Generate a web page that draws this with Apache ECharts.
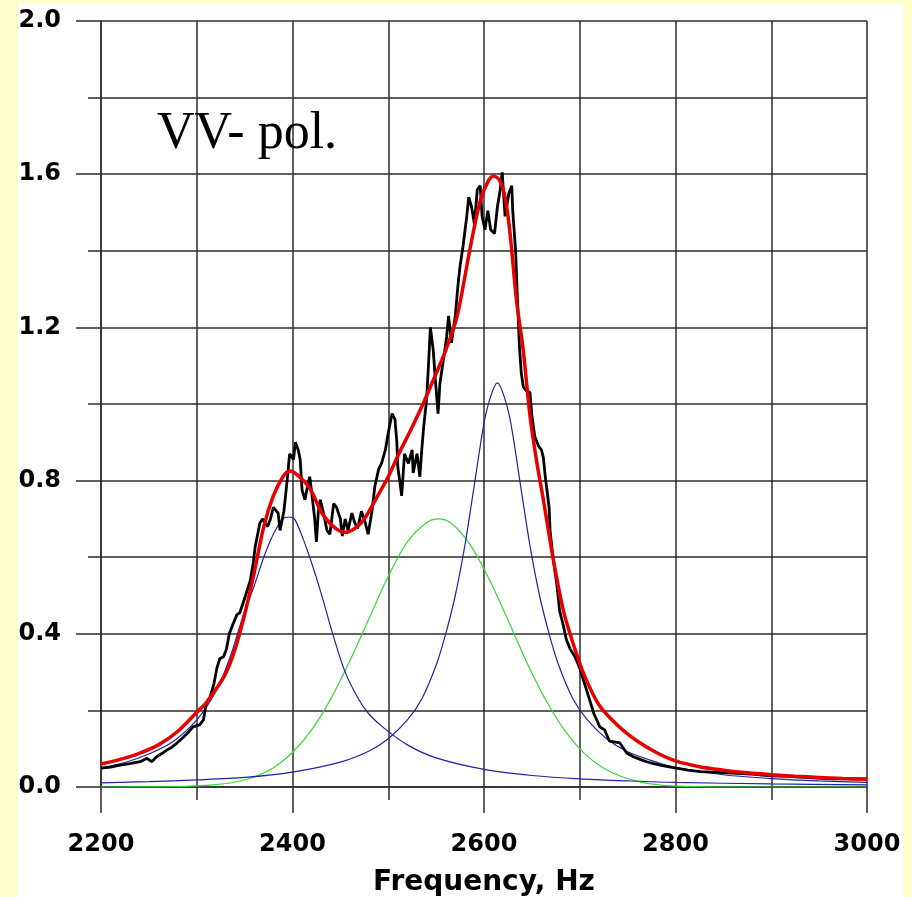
<!DOCTYPE html>
<html>
<head>
<meta charset="utf-8">
<script src="https://cdn.jsdelivr.net/npm/echarts@6/dist/echarts.min.js"></script>
<style>
  html, body { margin: 0; padding: 0; background: #FFFFCC; }
  #chart { width: 912px; height: 897px; }
</style>
</head>
<body>
<div id="chart"></div>
<script>
// Measured spectrum, VV polarisation: [frequency Hz, intensity]
const measured = [
  [2200,0.049],[2210,0.052],[2220,0.057],[2230,0.061],[2241,0.066],[2248,0.075],[2253,0.066],
  [2258,0.079],[2264,0.088],[2269,0.097],[2274,0.104],[2279,0.114],[2286,0.130],[2291,0.142],
  [2296,0.157],[2303,0.162],[2307,0.175],[2310,0.22],[2314,0.235],[2318,0.27],[2321,0.31],
  [2324,0.335],[2328,0.34],[2331,0.36],[2334,0.40],[2337,0.42],[2342,0.45],[2345,0.455],
  [2347,0.47],[2351,0.50],[2356,0.54],[2359,0.585],[2361,0.627],[2363,0.63],[2366,0.69],
  [2369,0.70],[2371,0.69],[2374,0.68],[2377,0.70],[2380,0.73],[2385,0.715],[2387,0.67],
  [2391,0.72],[2394,0.79],[2397,0.87],[2401,0.855],[2403,0.90],[2406,0.88],[2408,0.855],
  [2410,0.775],[2413,0.75],[2416,0.79],[2418,0.81],[2420,0.77],[2423,0.705],[2425,0.64],
  [2427,0.72],[2429,0.75],[2432,0.72],[2436,0.67],[2439,0.66],[2443,0.74],[2446,0.73],
  [2450,0.70],[2452,0.655],[2455,0.70],[2458,0.67],[2462,0.715],[2465,0.69],[2468,0.675],
  [2472,0.72],[2476,0.69],[2479,0.66],[2483,0.72],[2486,0.785],[2490,0.83],[2493,0.845],
  [2497,0.88],[2500,0.925],[2504,0.975],[2507,0.96],[2509,0.90],[2510,0.835],[2512,0.80],
  [2514,0.76],[2517,0.87],[2521,0.845],[2525,0.88],[2526,0.82],[2530,0.87],[2533,0.81],
  [2535,0.88],[2537,0.94],[2540,1.01],[2542,1.10],[2544,1.20],[2547,1.14],[2549,1.07],
  [2552,0.975],[2554,1.055],[2557,1.105],[2561,1.175],[2563,1.23],[2566,1.16],[2570,1.23],
  [2573,1.315],[2575,1.36],[2578,1.41],[2582,1.49],[2584,1.54],[2587,1.515],[2590,1.47],
  [2593,1.56],[2596,1.57],[2598,1.49],[2601,1.455],[2604,1.505],[2607,1.455],[2611,1.445],
  [2614,1.515],[2617,1.56],[2619,1.605],[2622,1.49],[2626,1.55],[2629,1.57],[2630,1.505],
  [2633,1.40],[2635,1.27],[2637,1.15],[2639,1.08],[2641,1.045],[2644,1.035],[2648,1.03],
  [2650,0.97],[2653,0.915],[2657,0.89],[2660,0.88],[2662,0.86],[2664,0.81],[2668,0.73],
  [2669,0.67],[2672,0.60],[2676,0.53],[2679,0.46],[2683,0.42],[2686,0.385],[2690,0.36],
  [2695,0.34],[2700,0.31],[2705,0.27],[2710,0.23],[2715,0.19],[2721,0.157],[2726,0.149],
  [2731,0.12],[2736,0.118],[2742,0.115],[2749,0.089],[2756,0.079],[2763,0.072],[2770,0.066],
  [2777,0.061],[2784,0.057],[2792,0.053],[2801,0.049],[2813,0.044],[2826,0.040],[2843,0.038],
  [2860,0.036],[2878,0.034],[2890,0.031],[2902,0.029],[2915,0.028],[2930,0.026],[2948,0.023],
  [2965,0.021],[2980,0.022],[3000,0.021]
];

// Total fitted curve
const fitTotal = [
  [2200,0.060],[2220,0.072],[2240,0.088],[2260,0.110],[2280,0.145],[2300,0.195],[2310,0.220],
  [2320,0.255],[2330,0.295],[2340,0.36],[2350,0.45],[2360,0.56],[2370,0.68],[2380,0.76],
  [2390,0.81],[2397,0.825],[2405,0.815],[2418,0.78],[2432,0.71],[2445,0.675],[2455,0.665],
  [2465,0.675],[2475,0.70],[2490,0.765],[2500,0.81],[2512,0.875],[2525,0.94],[2538,1.01],
  [2550,1.08],[2560,1.14],[2572,1.23],[2585,1.40],[2596,1.53],[2604,1.58],[2610,1.595],
  [2616,1.585],[2622,1.54],[2627,1.45],[2634,1.27],[2641,1.14],[2648,0.97],[2655,0.85],
  [2662,0.75],[2672,0.60],[2683,0.46],[2695,0.36],[2705,0.29],[2720,0.215],[2740,0.16],
  [2760,0.12],[2780,0.09],[2800,0.068],[2825,0.053],[2850,0.044],[2875,0.037],[2900,0.032],
  [2925,0.028],[2950,0.025],[2975,0.022],[3000,0.020]
];

// Low-frequency component (~2395 Hz)
const peakLow = [
  [2200,0.050],[2225,0.064],[2250,0.086],[2275,0.118],[2300,0.175],[2320,0.25],[2335,0.34],
  [2350,0.46],[2360,0.525],[2370,0.60],[2380,0.66],[2390,0.70],[2396,0.705],[2402,0.70],
  [2410,0.655],[2420,0.585],[2430,0.505],[2442,0.40],[2455,0.30],[2470,0.225],[2480,0.19],
  [2495,0.155],[2520,0.110],[2550,0.076],[2600,0.046],[2650,0.030],[2700,0.021],[2750,0.016],
  [2800,0.012],[2900,0.008],[3000,0.0056]
];

// Broad middle component (~2552 Hz)
const peakMid = [
  [2200,0.0],[2280,0.001],[2300,0.003],[2320,0.006],[2340,0.013],[2360,0.026],[2380,0.050],
  [2400,0.090],[2420,0.149],[2440,0.23],[2460,0.33],[2480,0.44],[2500,0.55],[2520,0.64],
  [2540,0.69],[2552,0.70],[2565,0.69],[2585,0.635],[2605,0.545],[2625,0.436],[2645,0.324],
  [2665,0.225],[2685,0.145],[2705,0.087],[2725,0.049],[2745,0.026],[2765,0.012],[2785,0.005],
  [2810,0.0015],[2850,0.0],[3000,0.0]
];

// High-frequency component (~2614 Hz)
const peakHigh = [
  [2200,0.011],[2250,0.014],[2300,0.0185],[2350,0.025],[2400,0.039],[2450,0.065],[2480,0.094],
  [2500,0.126],[2520,0.175],[2535,0.23],[2550,0.318],[2560,0.40],[2570,0.50],[2580,0.63],
  [2590,0.79],[2600,0.95],[2607,1.02],[2614,1.055],[2621,1.02],[2628,0.95],[2638,0.79],
  [2648,0.63],[2658,0.50],[2668,0.40],[2678,0.318],[2693,0.23],[2708,0.175],[2728,0.126],
  [2750,0.092],[2780,0.065],[2800,0.051],[2850,0.032],[2900,0.022],[2950,0.016],[3000,0.0123]
];

const gridColor = '#2e2e2e';
const labelFont = { fontFamily: 'DejaVu Sans', fontWeight: 'bold', fontSize: 24, color: '#000' };

const chart = echarts.init(document.getElementById('chart'), null, { renderer: 'canvas' });

chart.setOption({
  backgroundColor: '#FFFFCC',
  animation: false,
  graphic: [
    {
      type: 'rect', z: -100, silent: true,
      shape: { x: 18, y: 3, width: 885, height: 900 },
      style: { fill: '#ffffff' }
    },
    {
      type: 'text', z: 100, silent: true,
      style: {
        x: 157, y: 134, text: 'VV- pol.',
        font: 'normal 52px "Liberation Serif"', fill: '#000',
        textAlign: 'left', textVerticalAlign: 'middle'
      }
    }
  ],
  grid: { left: 101, right: 45, top: 21, bottom: 110, containLabel: false, outerBoundsMode: 'none' },
  xAxis: {
    type: 'value', min: 2200, max: 3000, interval: 200,
    name: 'Frequency, Hz', nameLocation: 'middle', nameGap: 82, nameMoveOverlap: false,
    nameTextStyle: { fontFamily: 'DejaVu Sans', fontWeight: 'bold', fontSize: 28, color: '#000' },
    axisLine: { show: true, onZero: false, lineStyle: { color: gridColor, width: 1.5 } },
    axisTick: { show: true, length: 26, lineStyle: { color: gridColor, width: 1.5 } },
    minorTick: { show: true, splitNumber: 2, length: 13, lineStyle: { color: gridColor, width: 1.5 } },
    splitLine: { show: true, lineStyle: { color: gridColor, width: 1.5 } },
    minorSplitLine: { show: true, lineStyle: { color: gridColor, width: 1.5 } },
    axisLabel: Object.assign({ margin: 46, formatter: v => String(v) }, labelFont)
  },
  yAxis: {
    type: 'value', min: 0, max: 2.0, interval: 0.4,
    axisLine: { show: true, lineStyle: { color: gridColor, width: 1.5 } },
    axisTick: { show: true, length: 25, lineStyle: { color: gridColor, width: 1.5 } },
    minorTick: { show: true, splitNumber: 2, length: 13, lineStyle: { color: gridColor, width: 1.5 } },
    splitLine: { show: true, lineStyle: { color: gridColor, width: 1.5 } },
    minorSplitLine: { show: true, lineStyle: { color: gridColor, width: 1.5 } },
    axisLabel: Object.assign({ margin: 40, formatter: v => v.toFixed(1) }, labelFont)
  },
  series: [
    { type: 'line', data: peakMid, smooth: 0.3, symbol: 'none',
      lineStyle: { color: '#33dd33', width: 1.2 }, z: 2 },
    { type: 'line', data: peakLow, smooth: 0.3, symbol: 'none',
      lineStyle: { color: '#2222a6', width: 1.2 }, z: 3 },
    { type: 'line', data: peakHigh, smooth: 0.3, symbol: 'none',
      lineStyle: { color: '#2222a6', width: 1.2 }, z: 3 },
    { type: 'line', data: measured, smooth: false, symbol: 'none',
      lineStyle: { color: '#000000', width: 2.8 }, z: 4 },
    { type: 'line', data: fitTotal, smooth: 0.3, symbol: 'none',
      lineStyle: { color: '#e60000', width: 3.5 }, z: 5 }
  ]
});
</script>
</body>
</html>
